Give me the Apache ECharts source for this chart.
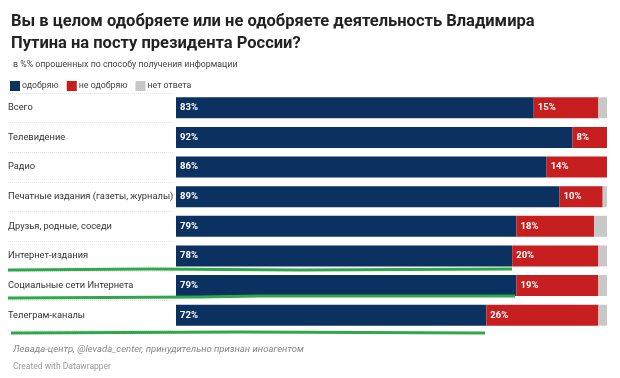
<!DOCTYPE html>
<html><head><meta charset="utf-8">
<script src="https://cdn.jsdelivr.net/npm/echarts@6/dist/echarts.min.js"></script>
<style>html,body{margin:0;padding:0;background:#fff}#c{width:620px;height:378px}</style>
</head><body><div id="c"></div>
<script>
const categories = ['Всего','Телевидение','Радио','Печатные издания (газеты, журналы)','Друзья, родные, соседи','Интернет-издания','Социальные сети Интернета','Телеграм-каналы'];
const approve = [83,92,86,89,79,78,79,72];
const disapprove = [15,8,14,10,18,20,19,26];
const noAnswer = [2,0,0,1,3,2,2,2];
const seriesNames = ['одобряю','не одобряю','нет ответа'];
const colors = ['#0b3161','#c71e1f','#c8c8c8'];

const chart = echarts.init(document.getElementById('c'));
const lbl = {show:true, position:'insideLeft', distance:4, color:'#fff', fontSize:9.5, fontWeight:'bold', fontFamily:'Roboto',
  formatter: p => p.value > 0 ? p.value + '%' : ''};
const mk = (name, data, color, showLabel) => ({
  name, type:'bar', stack:'a', data, barWidth:21, xAxisIndex:1, yAxisIndex:1,
  itemStyle:{color}, label: showLabel ? lbl : {show:false}, emphasis:{disabled:true}, silent:true
});
chart.setOption({
  animation:false,
  textStyle:{fontFamily:'Roboto'},
  title:[
    {text:'Вы в целом одобряете или не одобряете деятельность Владимира\nПутина на посту президента России?', left:6, top:6,
     textStyle:{fontSize:16.5, fontWeight:'bold', color:'#222', lineHeight:22, fontFamily:'Roboto'}},
    {text:'в %% опрошенных по способу получения информации', left:8, top:55,
     textStyle:{fontSize:8.8, fontWeight:'normal', color:'#444', fontFamily:'Roboto'}},
    {text:'Левада-центр, @levada_center, принудительно признан иноагентом', left:8, top:340,
     textStyle:{fontSize:9.5, fontStyle:'italic', fontWeight:'normal', color:'#888', fontFamily:'Roboto'}},
    {text:'Created with Datawrapper', left:8, top:357,
     textStyle:{fontSize:8.5, fontWeight:'normal', color:'#999', fontFamily:'Roboto'}}
  ],
  legend:{left:5, top:76, icon:'rect', itemWidth:10, itemHeight:10, itemGap:8, selectedMode:false,
    textStyle:{fontSize:8.8, color:'#444', padding:[0,0,0,-3]}, data:seriesNames},
  grid:[
    {left:8, width:166, top:93, bottom:48},
    {left:176, right:13, top:93, bottom:48}
  ],
  xAxis:[
    {gridIndex:0, type:'value', show:false},
    {gridIndex:1, type:'value', min:0, max:100, show:false}
  ],
  yAxis:[
    {gridIndex:0, type:'category', data:categories, inverse:true, axisLine:{show:false}, axisTick:{show:false},
     axisLabel:{show:false}, splitLine:{show:true, lineStyle:{color:'#e4e4e4', type:'dotted'}}},
    {gridIndex:1, type:'category', data:categories, inverse:true, axisLine:{show:false}, axisTick:{show:false},
     axisLabel:{align:'left', margin:168, fontSize:9.3, color:'#333'}}
  ],
  series:[
    mk(seriesNames[0], approve, colors[0], true),
    mk(seriesNames[1], disapprove, colors[1], true),
    mk(seriesNames[2], noAnswer, colors[2], false)
  ],
  graphic:[
    {type:'polyline', shape:{points:[[8,270],[150,269],[300,270],[512,269]]}, style:{stroke:'#2ea84a', lineWidth:3, fill:null}, z:100},
    {type:'polyline', shape:{points:[[8,298],[200,297],[260,296],[515,296]]}, style:{stroke:'#2ea84a', lineWidth:3, fill:null}, z:100},
    {type:'polyline', shape:{points:[[11,333],[240,332],[485,333]]}, style:{stroke:'#2ea84a', lineWidth:3, fill:null}, z:100}
  ]
});
</script></body></html>
